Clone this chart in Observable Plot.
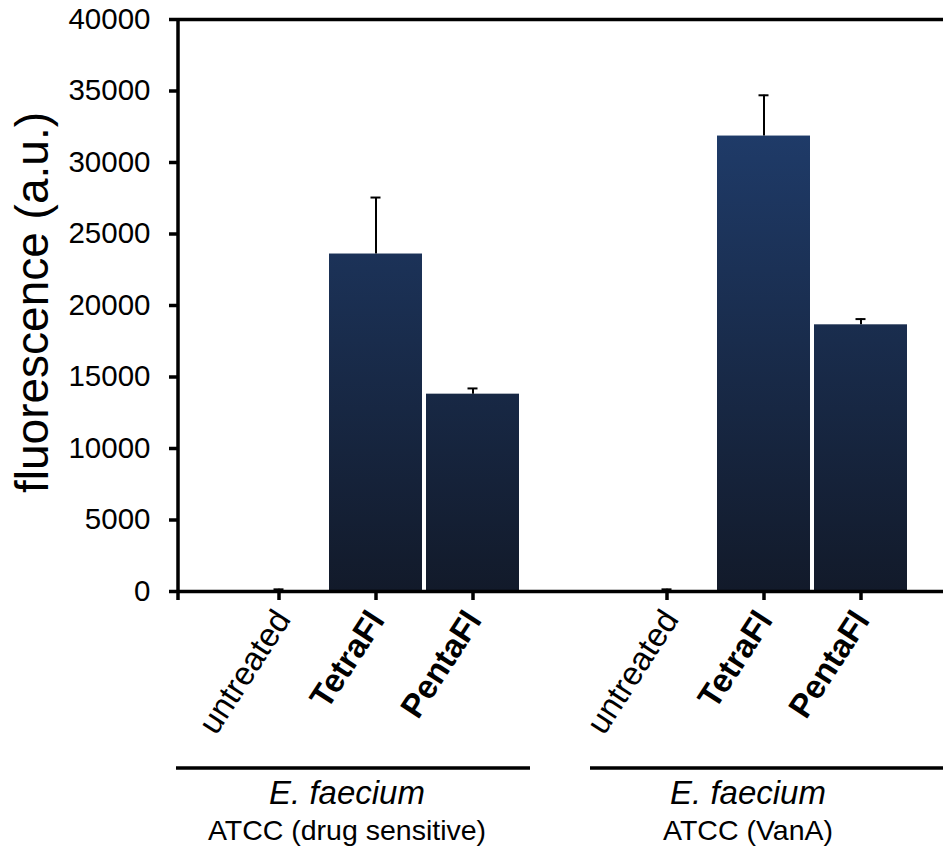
<!DOCTYPE html>
<html>
<head>
<meta charset="utf-8">
<script src="https://cdn.jsdelivr.net/npm/d3@7"></script>
<script src="https://cdn.jsdelivr.net/npm/@observablehq/plot@0.6"></script>
<style>
  html, body { margin: 0; padding: 0; background: #fff; }
  #chart svg { display: block; }
</style>
</head>
<body>
<div id="chart"></div>
<script>
// ---- data ----
const species = "E. faecium";
const strains = ["ATCC (drug sensitive)", "ATCC (VanA)"];
const treatments = ["untreated", "TetraFl", "PentaFl"];
const meanSensitive = [40, 23600, 13800];
const errSensitive = [110, 3950, 400];
const meanVanA = [40, 31850, 18650];
const errVanA = [110, 2850, 400];
const yTicks = [0, 5000, 10000, 15000, 20000, 25000, 30000, 35000, 40000];
const yLabel = "fluorescence (a.u.)";

// ---- build table ----
const rows = [];
strains.forEach((s, gi) => {
  const means = gi === 0 ? meanSensitive : meanVanA;
  const errs = gi === 0 ? errSensitive : errVanA;
  treatments.forEach((t, i) => rows.push({
    key: s + " | " + t, strain: s, treatment: t,
    value: means[i], err: errs[i], top: means[i] + errs[i]
  }));
});
const keysA = rows.filter(d => d.strain === strains[0]).map(d => d.key);
const keysB = rows.filter(d => d.strain === strains[1]).map(d => d.key);
const xDomain = [...keysA, "gap", ...keysB];
const groupRows = strains.map((s, i) => ({strain: s, species, center: (i === 0 ? keysA : keysB)[1]}));

const FONT = "'Liberation Sans', Arial, Helvetica, sans-serif";
const ns = "http://www.w3.org/2000/svg";

function gradientDefs(index, scales) {
  const defs = document.createElementNS(ns, "defs");
  const g = document.createElementNS(ns, "linearGradient");
  g.setAttribute("id", "barGrad");
  g.setAttribute("gradientUnits", "userSpaceOnUse");
  const y0 = scales && scales.y ? scales.y(0) : 591;
  const y1 = scales && scales.y ? scales.y(40000) : 19;
  g.setAttribute("x1", 0); g.setAttribute("x2", 0);
  g.setAttribute("y1", y0); g.setAttribute("y2", y1);
  [["0", "#121a2a"], ["1", "#224378"]].forEach(([o, c]) => {
    const st = document.createElementNS(ns, "stop");
    st.setAttribute("offset", o); st.setAttribute("stop-color", c);
    g.appendChild(st);
  });
  defs.appendChild(g);
  return defs;
}

function decorations(index, scales, values, dims) {
  const x = scales.x, y = scales.y;
  const step = x(xDomain[1]) - x(xDomain[0]);
  const g = document.createElementNS(ns, "g");
  g.setAttribute("stroke", "#000");
  g.setAttribute("stroke-width", 3.5);
  const line = (x1, y1, x2, y2) => {
    const l = document.createElementNS(ns, "line");
    l.setAttribute("x1", x1); l.setAttribute("y1", y1);
    l.setAttribute("x2", x2); l.setAttribute("y2", y2);
    g.appendChild(l);
  };
  const left = dims.marginLeft;
  // left axis line
  line(left, y(40000), left, y(0) + 9);
  // group underlines
  const gy = y(0) + 177;
  line(left - 2, gy, x(keysA[2]) + step + 7, gy);
  line(x(keysB[0]) - 30, gy, dims.width, gy);
  return g;
}

const chart = Plot.plot({
  width: 943,
  height: 849,
  marginLeft: 178,
  marginRight: 0,
  marginTop: 19,
  marginBottom: 258,
  style: {fontFamily: FONT, background: "#fff", color: "#000", overflow: "visible"},
  x: {type: "band", domain: xDomain, range: [227, 911], paddingInner: 0.045, paddingOuter: 0.0225, axis: null},
  y: {domain: [0, 40000], axis: null},
  marks: [
    gradientDefs,
    Plot.barY(rows, {x: "key", y: "value", fill: "url(#barGrad)"}),
    Plot.ruleX(rows, {x: "key", y1: "value", y2: "top", stroke: "#000", strokeWidth: 2}),
    Plot.tickY(rows, {x: "key", y: "top", stroke: "#000", strokeWidth: 2, insetLeft: 41.5, insetRight: 41.5}),
    Plot.ruleY([0, 40000], {stroke: "#000", strokeWidth: 3.5}),
    decorations,
    Plot.axisY({ticks: yTicks, tickSize: 9, tickPadding: 19, strokeWidth: 3.5, fontSize: 29.5, label: null, tickFormat: d => String(d)}),
    Plot.axisX({ticks: [...keysA, ...keysB], tickSize: 9, strokeWidth: 3.5, tickFormat: () => "", label: null}),
    Plot.text(rows.filter(d => d.treatment === "untreated"), {
      x: "key", text: "treatment", frameAnchor: "bottom", rotate: -57,
      textAnchor: "end", lineAnchor: "middle", fontSize: 33, dx: 4, dy: 22
    }),
    Plot.text(rows.filter(d => d.treatment !== "untreated"), {
      x: "key", text: "treatment", frameAnchor: "bottom", rotate: -57,
      textAnchor: "end", lineAnchor: "middle", fontSize: 33, fontWeight: "bold", dx: 1, dy: 23
    }),
    Plot.text([yLabel], {frameAnchor: "left", rotate: -90, fontSize: 46, dx: -145, dy: -3, lineAnchor: "middle", textAnchor: "middle"}),
    Plot.text(groupRows.slice(0, 1), {x: "center", text: "species", frameAnchor: "bottom", fontSize: 33, fontStyle: "italic", dx: -29, dy: 202, lineAnchor: "middle"}),
    Plot.text(groupRows.slice(1, 2), {x: "center", text: "species", frameAnchor: "bottom", fontSize: 33, fontStyle: "italic", dx: -16, dy: 202, lineAnchor: "middle"}),
    Plot.text(groupRows.slice(0, 1), {x: "center", text: "strain", frameAnchor: "bottom", fontSize: 28.5, dx: -29, dy: 239, lineAnchor: "middle"}),
    Plot.text(groupRows.slice(1, 2), {x: "center", text: "strain", frameAnchor: "bottom", fontSize: 28.5, dx: -16, dy: 239, lineAnchor: "middle"})
  ]
});
document.getElementById("chart").appendChild(chart);
</script>
</body>
</html>
